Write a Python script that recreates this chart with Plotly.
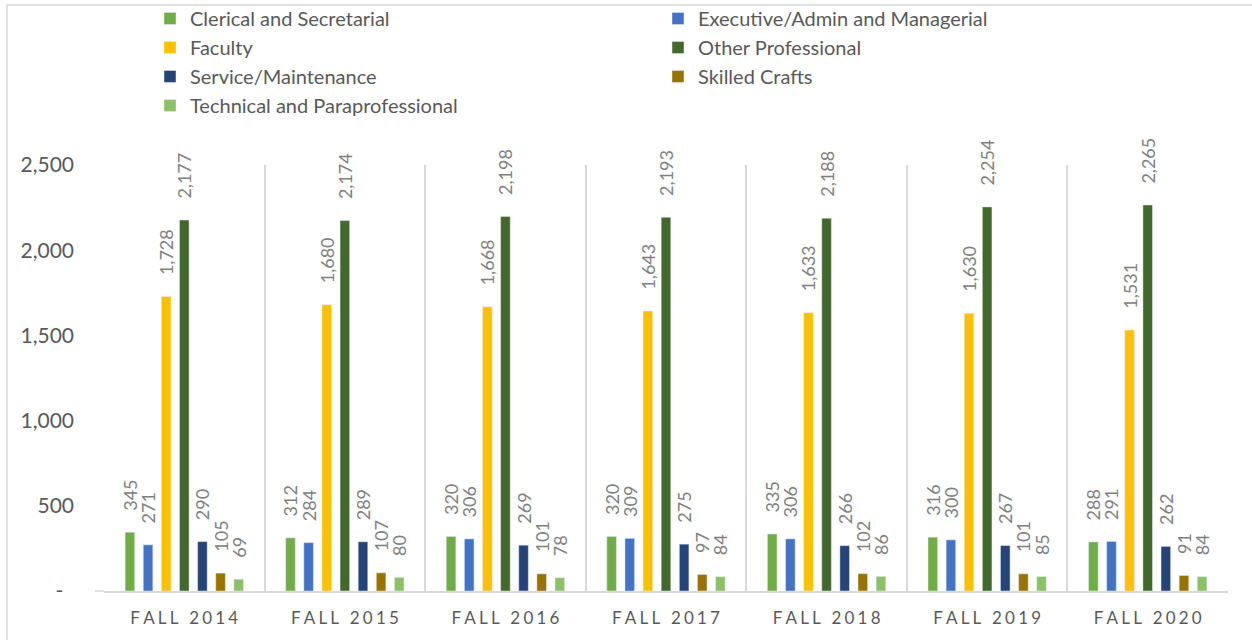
import plotly.graph_objects as go

years = ["FALL 2014", "FALL 2015", "FALL 2016", "FALL 2017", "FALL 2018", "FALL 2019", "FALL 2020"]
series_names = ["Clerical and Secretarial", "Executive/Admin and Managerial", "Faculty",
                "Other Professional", "Service/Maintenance", "Skilled Crafts",
                "Technical and Paraprofessional"]
clerical = [345, 312, 320, 320, 335, 316, 288]
executive = [271, 284, 306, 309, 306, 300, 291]
faculty = [1728, 1680, 1668, 1643, 1633, 1630, 1531]
other_prof = [2177, 2174, 2198, 2193, 2188, 2254, 2265]
service = [290, 289, 269, 275, 266, 267, 262]
skilled = [105, 107, 101, 97, 102, 101, 91]
technical = [69, 80, 78, 84, 86, 85, 84]
colors = ["#70AD47", "#4472C4", "#FFC000", "#43682B", "#264478", "#997300", "#8CC168"]
y_ticks = [0, 500, 1000, 1500, 2000, 2500]
y_ticktext = ["-\u00a0\u00a0", "500", "1,000", "1,500", "2,000", "2,500"]

def spaced(s):
    return "\u2009\u200a".join(list(s))

x_labels = [spaced(y) for y in years]

FONT = "Lato, 'Open Sans', sans-serif"
L, R, T, B = 104, 24, 165, 49
PW, PH = 1252 - L - R, 640 - T - B

fig = go.Figure()
for name, vals, col in zip(series_names, [clerical, executive, faculty, other_prof, service, skilled, technical], colors):
    fig.add_trace(go.Bar(
        name=name, x=x_labels, y=vals, marker_color=col,
        text=["\u00a0" * 4 + f"{v:,}" for v in vals],
        textposition="outside", textangle=-90, constraintext="none",
        textfont=dict(family=FONT, size=18, color="#808080"),
        cliponaxis=False,
    ))

fig.update_layout(
    width=1252, height=640,
    margin=dict(l=L, r=R, t=T, b=B, autoexpand=False),
    paper_bgcolor="white", plot_bgcolor="white",
    barmode="group", bargap=0.21, bargroupgap=0.47,
    font=dict(family=FONT, color="#595959"),
    legend=dict(orientation="h", x=(150 - L) / PW, xanchor="left",
                y=(T + PH + 1) / PH, yanchor="top", entrywidth=463,
                bgcolor="rgba(0,0,0,0)",
                font=dict(family=FONT, size=20, color="#595959"),
                traceorder="normal", itemclick=False),
    xaxis=dict(showline=True, linecolor="#D9D9D9", linewidth=1.5, automargin=False,
               showgrid=True, gridcolor="#D9D9D9", gridwidth=1.5, tickson="boundaries",
               ticks="", tickfont=dict(family=FONT, size=17, color="#595959"),
               ticklabelstandoff=11),
    yaxis=dict(range=[0, 2500], tickvals=y_ticks, ticktext=y_ticktext, automargin=False,
               showgrid=False, zeroline=False, showline=False,
               tickfont=dict(family=FONT, size=21, color="#595959"),
               ticklabelstandoff=29),
    shapes=[dict(type="rect", xref="paper", yref="paper",
                 x0=-(L - 7) / PW, x1=1 + (R + 10) / PW, y0=-(B + 10) / PH, y1=1 + (T - 5) / PH,
                 line=dict(color="#D9D9D9", width=1.5), fillcolor="rgba(0,0,0,0)", layer="below"),
            dict(type="line", xref="paper", yref="paper",
                 x0=-9 / PW, x1=0, y0=0, y1=0,
                 line=dict(color="#D9D9D9", width=1.5))],
)
fig.write_html("out.html", config={"displayModeBar": False},
               post_script="document.body.style.margin='0';document.body.style.overflow='hidden';")
